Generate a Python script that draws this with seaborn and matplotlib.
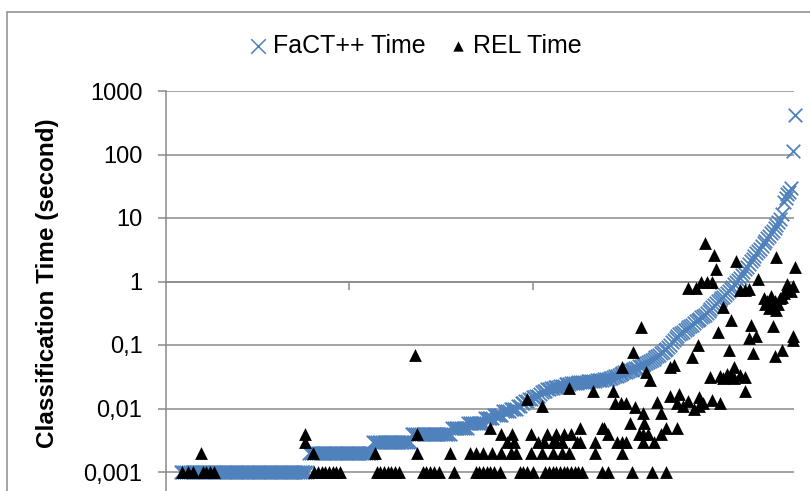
import numpy as np
import pandas as pd
import matplotlib
matplotlib.use("Agg")
import matplotlib.pyplot as plt
import seaborn as sns
from matplotlib.ticker import NullLocator
from matplotlib.patches import Rectangle

# ---------------- data (times in milliseconds) ----------------
fact_first_index = 8
fact_ms = [
    1, 1, 1, 1, 1, 1, 1, 1, 1, 1,
    1, 1, 1, 1, 1, 1, 1, 1, 1, 1,
    1, 1, 1, 1, 1, 1, 1, 1, 1, 1,
    1, 1, 1, 1, 1, 1, 1, 1, 1, 1,
    1, 1, 1, 1, 1, 1, 1, 1, 1, 1,
    1, 1, 1, 1, 1, 1, 1, 1, 1, 1,
    1, 1, 1, 1, 1, 1, 1, 1, 1, 1,
    2, 2, 2, 2, 2, 2, 2, 2, 2, 2,
    2, 2, 2, 2, 2, 2, 2, 2, 2, 2,
    2, 2, 2, 2, 2, 2, 2, 2, 2, 2,
    2, 2, 2, 2, 2,
    3, 3, 3, 3, 3, 3, 3, 3, 3, 3,
    3, 3, 3, 3, 3, 3, 3, 3, 3, 3, 3,
    4, 4, 4, 4, 4, 4, 4, 4, 4, 4, 4,
    4, 4, 4, 4, 4, 4, 4, 4, 4, 4, 4,
    5, 5, 5, 5, 5, 5, 5, 5, 5,
    6, 6, 6, 6, 6, 6, 6, 6, 6,
    7, 7, 7, 7, 7, 8, 8, 8, 8, 8, 9, 9, 9, 9, 10, 10, 10, 10,
    11, 11, 12, 12, 13, 13, 14, 14, 15, 15, 16, 16, 17, 18,
    19, 19, 20, 20, 21, 21, 22, 22, 22, 23, 23, 23, 24, 24, 24, 25, 25,
    25, 25, 26, 26, 26, 26, 26, 27, 27, 27, 27, 27, 28, 28, 28, 28, 29, 29, 29, 30, 30, 31,
    32, 33, 34, 35, 36, 37, 38, 39, 40, 41, 42, 43, 44, 46, 47, 49, 50, 52, 54, 56,
    58, 61, 64, 67, 70, 74, 78, 83, 88, 94, 100, 110, 120, 130, 140, 150,
    155, 160, 170, 180, 190, 200, 210, 220, 235, 250, 260, 275, 290, 300, 320,
    340, 370, 400, 430, 460, 490, 520, 550, 580, 620, 660,
    700, 760, 830, 900, 980, 1060, 1150,
    1250, 1400, 1550, 1700, 1900, 2100, 2300, 2500, 2800,
    3000, 3300, 3600, 4000, 4400, 4800, 5300, 5800,
    6300, 7000, 7800, 8700, 9800, 11500,
    18000, 21000, 24000, 26000, 30000,
    115000, 420000,
]

rel_x = [
    # 1 ms
    9, 12, 15, 20, 22, 24, 26, 81, 83, 85, 87, 89, 91, 93, 95,
    115, 117, 119, 121, 123, 125, 127, 140, 142, 144, 146, 149, 157,
    169, 171, 173, 175, 177, 179, 182, 193, 195, 197, 200,
    207, 209, 211, 213, 215, 217, 219, 221, 223, 225, 227, 238, 241, 254, 265, 273,
    # 2 ms
    19, 80, 114, 137, 155, 166, 169, 173, 178, 183, 188, 191, 199, 205, 211, 216, 220, 234, 249,
    # 3 ms
    76, 186, 190, 203, 206, 211, 213, 216, 224, 226, 234, 246, 249, 251, 260, 266,
    # 4 ms
    76, 137, 183, 189, 199, 208, 213, 217, 221, 241, 258, 260, 263, 270,
    # 5 ms
    177, 226, 238, 239, 273, 279,
    # 6 ms
    253, 261,
    # larger
    136, 197, 205, 220, 233, 244, 245, 248, 251, 249, 255, 256, 259, 260, 262, 264,
    268, 270, 275, 275, 277, 279, 282, 285, 288, 291, 293, 280, 285, 289, 287, 290,
    291, 292, 295, 298, 294, 297, 298, 299, 300, 301, 302, 302, 304, 306, 308, 310,
    313, 316, 304, 307, 308, 310, 311, 313, 316, 318, 316, 318, 319, 320, 322, 323,
    326, 327, 328, 329, 330, 331, 332, 334, 335, 331, 332, 333, 336, 337, 338, 340,
    341, 342, 342, 342, 343, 333, 339, 336,
]
rel_ms = [
    # 1 ms
    1, 1, 1, 1, 1, 1, 1, 1, 1, 1, 1, 1, 1, 1, 1,
    1, 1, 1, 1, 1, 1, 1, 1, 1, 1, 1, 1, 1,
    1, 1, 1, 1, 1, 1, 1, 1, 1, 1, 1,
    1, 1, 1, 1, 1, 1, 1, 1, 1, 1, 1, 1, 1, 1, 1, 1,
    # 2 ms
    2, 2, 2, 2, 2, 2, 2, 2, 2, 2, 2, 2, 2, 2, 2, 2, 2, 2, 2,
    # 3 ms
    3, 3, 3, 3, 3, 3, 3, 3, 3, 3, 3, 3, 3, 3, 3, 3,
    # 4 ms
    4, 4, 4, 4, 4, 4, 4, 4, 4, 4, 4, 4, 4, 4,
    # 5 ms
    5, 5, 5, 5, 5, 5,
    # 6 ms
    6, 6,
    # larger
    69, 14, 11, 21, 19, 19, 12, 12, 12, 45, 77, 10.5, 190, 8.5, 37, 28,
    12.5, 8.5, 45, 16, 48, 12, 11, 13, 10, 11, 12, 17, 800, 800, 65, 100,
    15, 1000, 1000, 1000, 4000, 31, 13.6, 2600, 1600, 160, 12, 32, 30, 35, 33, 30,
    34, 31, 400, 83, 250, 45, 2100, 730, 730, 750, 19, 130, 210, 75, 140, 1100,
    550, 450, 500, 380, 600, 420, 500, 450, 550, 200, 67, 2400, 83, 650, 750, 800,
    700, 850, 140, 120, 1700, 350, 900, 560,
]

ytick_values = [0.001, 0.01, 0.1, 1, 10, 100, 1000]
ytick_labels = ["0,001", "0,01", "0,1", "1", "10", "100", "1000"]
xtick_values = [100, 200, 300]
series_names = ["FaCT++ Time", "REL Time"]

# ---------------- styling ----------------
sns.set_theme(style="white")
plt.rcParams['font.family'] = ['Liberation Sans', 'DejaVu Sans']

W, H = 810, 491
fig = plt.figure(figsize=(W / 100, H / 100), dpi=100)
fig.patch.set_facecolor("white")

# plot area: left 166px, right 794px, top 91px, extends to the bottom edge
ax = fig.add_axes([166 / W, 0, 628 / W, 400 / H])
ax.set_facecolor("white")

fact_df = pd.DataFrame({
    "test": np.arange(fact_first_index, fact_first_index + len(fact_ms)),
    "time": np.array(fact_ms) / 1000.0,
})
rel_df = pd.DataFrame({"test": rel_x, "time": np.array(rel_ms) / 1000.0})

blue = "#4F81BD"
grid_c = "#8A8A8A"

sns.scatterplot(data=fact_df, x="test", y="time", marker="x", color=blue,
                s=95, linewidth=1.3, ax=ax, label=series_names[0],
                clip_on=False, zorder=3, legend=False)
sns.scatterplot(data=rel_df, x="test", y="time", marker="^", color="black",
                s=85, linewidth=0, ax=ax, label=series_names[1],
                clip_on=False, zorder=4, legend=False)

ax.set_yscale("log")
ax.set_ylim(10 ** (3 - 400 / 63.5), 1000)
ax.set_xlim(0, 628 / 1.833)

ax.set_yticks(ytick_values)
ax.set_yticklabels(ytick_labels)
ax.yaxis.set_minor_locator(NullLocator())
ax.set_xticks(xtick_values)
ax.xaxis.set_minor_locator(NullLocator())

ax.yaxis.grid(True, color=grid_c, linewidth=1.1)
ax.xaxis.grid(False)
ax.set_axisbelow(True)

for side in ["top", "right"]:
    ax.spines[side].set_visible(False)
ax.spines["left"].set_color(grid_c)
ax.spines["left"].set_linewidth(1.1)
ax.spines["bottom"].set_position(("data", 1))
ax.spines["bottom"].set_color(grid_c)
ax.spines["bottom"].set_linewidth(1.1)

ax.tick_params(axis="y", which="major", direction="out", length=6, width=1.1,
               color=grid_c, pad=11, labelsize=17, labelcolor="black", left=True)
ax.tick_params(axis="x", which="major", direction="out", length=6, width=1.1,
               color=grid_c, labelbottom=False, bottom=True)

ax.set_xlabel("")
ax.set_ylabel("Classification Time (second)", fontsize=17.5, fontweight="bold",
              color="black")
ax.yaxis.label.set_va("center")
ax.yaxis.set_label_coords((48 - 166) / 628, (491 - 283.5) / 400)

handles, labels = ax.get_legend_handles_labels()
leg = ax.legend(handles, labels, loc="center",
                bbox_to_anchor=(416 / W, 1 - 46 / H), bbox_transform=fig.transFigure,
                ncol=2, frameon=False, fontsize=18, handlelength=0.6,
                handletextpad=0.3, columnspacing=1.0, borderpad=0, borderaxespad=0)
for t in leg.get_texts():
    t.set_color("black")
leg_handles = leg.legend_handles
leg_handles[0].set_sizes([110])
leg_handles[0].set_linewidths([1.1])
leg_handles[1].set_sizes([55])

# outer chart border (cropped at right and bottom)
fig.add_artist(Rectangle((7 / W, -0.5), 2.0, 0.5 + 1 - 12 / H, transform=fig.transFigure,
                         fill=False, edgecolor=grid_c, linewidth=1.1))

fig.savefig("out.png", dpi=100)
